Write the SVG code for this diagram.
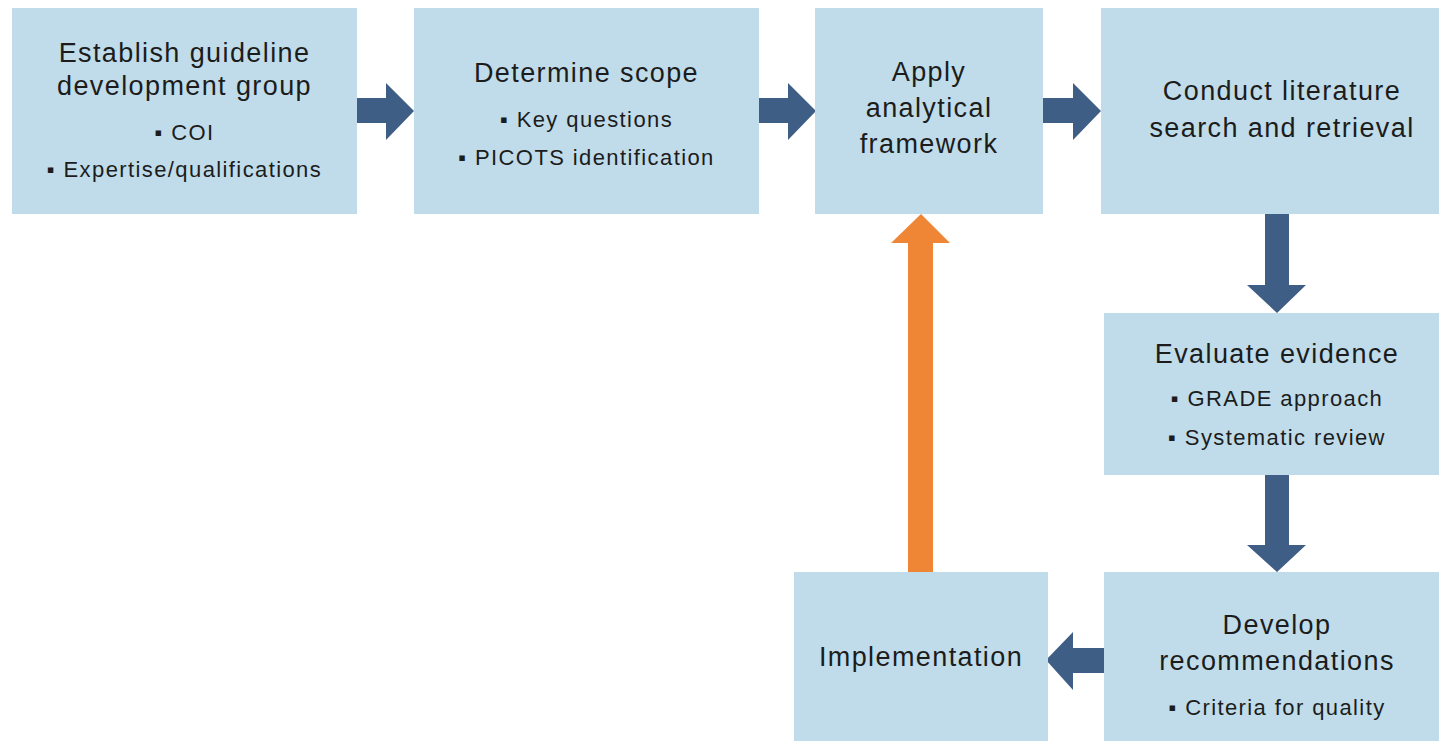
<svg xmlns="http://www.w3.org/2000/svg" width="1439" height="741" viewBox="0 0 1439 741">
<style>
.box{fill:#c0dcea;}
.t{font-family:"Liberation Sans",Arial,sans-serif;font-size:27px;fill:#1c1c1c;text-anchor:middle;letter-spacing:1.4px;}
.b{font-family:"Liberation Sans","DejaVu Sans",Arial,sans-serif;font-size:22px;fill:#1c1c1c;text-anchor:middle;letter-spacing:1.4px;}
.arr{fill:#3f5e85;}
.org{fill:#ef8636;}
</style>
<rect width="1439" height="741" fill="#ffffff"/>
<g id="connectors">
<polygon class="arr" points="357,98 386,98 386,83 414,111 386,140 386,123 357,123"/>
<polygon class="arr" points="759,98 788,98 788,83 816,111 788,140 788,123 759,123"/>
<polygon class="arr" points="1043,98 1073,98 1073,83 1101,111 1073,140 1073,123 1043,123"/>
<polygon class="arr" points="1265,214 1289,214 1289,285 1306,285 1277,313 1247,285 1265,285"/>
<polygon class="arr" points="1265,475 1289,475 1289,545 1306,545 1277,572 1247,545 1265,545"/>
<polygon class="arr" points="1104,648 1073,648 1073,632 1046,660 1073,690 1073,673 1104,673"/>
<polygon class="org" points="908,572 908,243 891,243 921,214 950,243 933,243 933,572"/>
</g>
<g id="n1">
<rect class="box" x="12" y="8" width="345" height="206"/>
<text class="t" x="184.5" y="62">Establish guideline</text>
<text class="t" x="184.5" y="95">development group</text>
<text class="b" x="184.5" y="140">▪ COI</text>
<text class="b" x="184.5" y="177">▪ Expertise/qualifications</text>
</g>
<g id="n2">
<rect class="box" x="414" y="8" width="345" height="206"/>
<text class="t" x="586.5" y="82">Determine scope</text>
<text class="b" x="586.5" y="127">▪ Key questions</text>
<text class="b" x="586.5" y="165">▪ PICOTS identification</text>
</g>
<g id="n3">
<rect class="box" x="815" y="8" width="228" height="206"/>
<text class="t" x="929" y="81">Apply</text>
<text class="t" x="929" y="117">analytical</text>
<text class="t" x="929" y="153">framework</text>
</g>
<g id="n4">
<rect class="box" x="1101" y="8" width="362" height="206"/>
<text class="t" x="1282" y="100">Conduct literature</text>
<text class="t" x="1282" y="137">search and retrieval</text>
</g>
<g id="n5">
<rect class="box" x="1104" y="313" width="350" height="162"/>
<text class="t" x="1277" y="363">Evaluate evidence</text>
<text class="b" x="1277" y="406">▪ GRADE approach</text>
<text class="b" x="1277" y="445">▪ Systematic review</text>
</g>
<g id="n6">
<rect class="box" x="1104" y="572" width="350" height="169"/>
<text class="t" x="1277" y="634">Develop</text>
<text class="t" x="1277" y="670">recommendations</text>
<text class="b" x="1277" y="715">▪ Criteria for quality</text>
</g>
<g id="n7">
<rect class="box" x="794" y="572" width="254" height="169"/>
<text class="t" x="921" y="666">Implementation</text>
</g>
</svg>
